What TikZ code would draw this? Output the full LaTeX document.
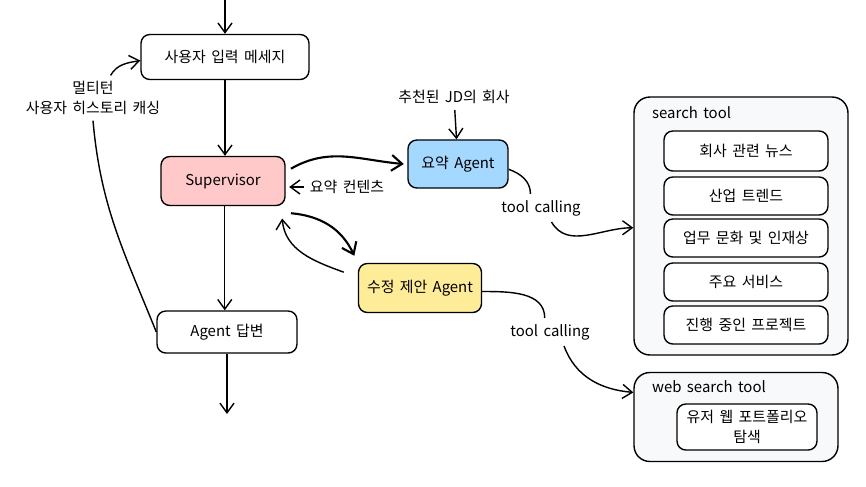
\documentclass[tikz,border=0pt]{standalone}
\usepackage{fontspec}
\setmainfont[WordSpace=1.6]{Noto Sans CJK KR}
\usetikzlibrary{arrows.meta}
\definecolor{rosa}{HTML}{FFC9C9}
\definecolor{celeste}{HTML}{A5D8FF}
\definecolor{amarillo}{HTML}{FFEC99}
\definecolor{gris}{HTML}{F8F9FA}
\begin{document}
\begin{tikzpicture}[x=0.02cm, y=-0.02cm,
    caja/.style={draw, thick, rounded corners=5pt, fill=white, align=center, font=\fontsize{8.5}{11}\selectfont},
    herramienta/.style={draw, thick, rounded corners=9pt, fill=gris},
    etiqueta/.style={align=center, font=\fontsize{8.5}{11}\selectfont},
    flecha/.style={-{Straight Barb[length=5.5pt, width=8pt]}, thick},
    flechagruesa/.style={-{Straight Barb[length=6pt, width=9pt]}, very thick},
    linea/.style={thick}
  ]
    \useasboundingbox (0,0) rectangle (866,487);

    % flujo principal
    \coordinate (inicio) at (225,0);
    \coordinate (fin) at (227,414);
    \node[caja, minimum width=3.36cm, minimum height=0.9cm] (entrada) at (225,57) {사용자 입력 메세지};
    \node[caja, fill=rosa, minimum width=2.48cm, minimum height=0.98cm] (supervisor) at (223,181) {Supervisor};
    \node[caja, fill=celeste, minimum width=2cm, minimum height=0.96cm] (resumen) at (458,164) {요약 Agent};
    \node[caja, fill=amarillo, minimum width=2.46cm, minimum height=0.98cm] (propuesta) at (420,288) {수정 제안 Agent};
    \node[caja, minimum width=2.8cm, minimum height=0.84cm] (respuesta) at (227,332) {Agent 답변};

    % etiquetas
    \node[etiqueta] (historial) at (93,98) {멀티턴\\사용자 히스토리 캐싱};
    \node[etiqueta] (empresa) at (454,97) {추천된 JD의 회사};
    \node[etiqueta] (contenido) at (347,187) {요약 컨텐츠};
    \node[etiqueta] (llamada1) at (541,208) {tool calling};
    \node[etiqueta] (llamada2) at (550,332) {tool calling};

    % search tool
    \node[herramienta, minimum width=4.28cm, minimum height=5.16cm] (busqueda) at (741,226) {};
    \node[etiqueta, anchor=west] (tituloBusqueda) at (646,113) {search tool};
    \node[caja, minimum width=3.28cm, minimum height=0.8cm] (noticias) at (746,151) {회사 관련 뉴스};
    \node[caja, minimum width=3.28cm, minimum height=0.76cm] (tendencia) at (746,196) {산업 트렌드};
    \node[caja, minimum width=3.28cm, minimum height=0.76cm] (cultura) at (746,238) {업무 문화 및 인재상};
    \node[caja, minimum width=3.28cm, minimum height=0.76cm] (servicios) at (746,282) {주요 서비스};
    \node[caja, minimum width=3.28cm, minimum height=0.76cm] (proyectos) at (746,325) {진행 중인 프로젝트};

    % web search tool
    \node[herramienta, minimum width=4.08cm, minimum height=1.78cm] (web) at (736,417) {};
    \node[etiqueta, anchor=west] (tituloWeb) at (646,387) {web search tool};
    \node[caja, minimum width=2.8cm, minimum height=0.92cm] (portafolio) at (747,427) {유저 웹 포트폴리오\\탐색};

    % conexiones
    \draw[flecha] (inicio) -- (entrada);
    \draw[flecha] (entrada) -- (entrada |- supervisor.north);
    \draw[flecha] ([xshift=1pt]supervisor.south) -- ([xshift=1pt]supervisor.south |- respuesta.north);
    \draw[flecha] (respuesta) -- (fin);
    \draw[flecha] (empresa) -- (resumen);
    \draw[flechagruesa] ([shift={(3pt,7pt)}]supervisor.east) to[out=30, in=175] ([xshift=-2pt]resumen.west);
    \draw[flecha] (contenido.west) -- ([xshift=2pt]contenido.west -| supervisor.east);
    \draw[flechagruesa] ([shift={(3pt,-4pt)}]supervisor.south east) to[out=-5, in=115] ([shift={(-2pt,4pt)}]propuesta.north west);
    \draw[flecha] ([shift={(-8pt,9pt)}]propuesta.west) to[out=160, in=-85] ([shift={(-2pt,-7pt)}]supervisor.south east);
    \draw[linea] ([yshift=-3pt]resumen.east) to[out=-20, in=90] ([xshift=-6pt]llamada1.north);
    \draw[flecha] ([xshift=6pt]llamada1.south) to[out=-60, in=180] ([yshift=-1pt]busqueda.west);
    \draw[linea] ([yshift=-2pt]propuesta.east) to[out=0, in=90] ([xshift=-3pt]llamada2.north);
    \draw[flecha] ([xshift=8pt]llamada2.south) to[out=-70, in=175] ([yshift=14pt]web.west);
    \draw[linea] (respuesta.west) to[out=112, in=-85] (historial.south);
    \draw[flecha] ([xshift=10pt]historial.north) to[out=60, in=190] ([yshift=-2pt]entrada.west);
  \end{tikzpicture}
\end{document}
